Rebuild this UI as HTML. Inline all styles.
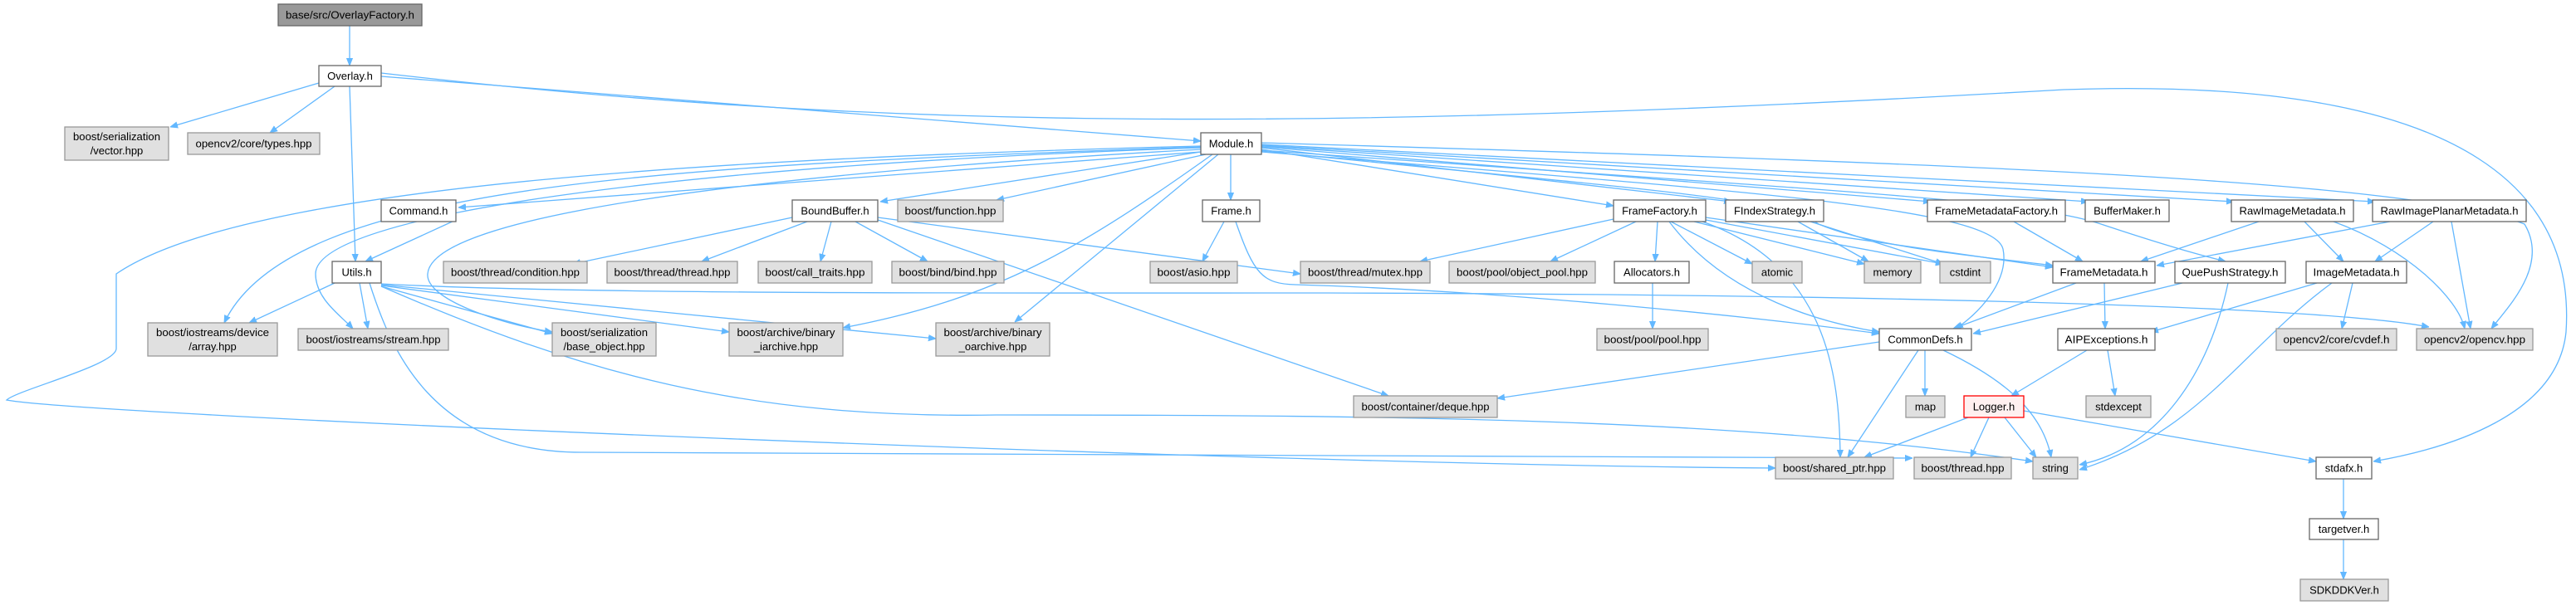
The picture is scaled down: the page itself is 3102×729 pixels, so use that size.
<!DOCTYPE html>
<html><head><meta charset="utf-8"><style>
html,body{margin:0;padding:0;background:#fff;}
svg{display:block;}
text{font-family:"Liberation Sans",Helvetica,sans-serif;font-size:13px;fill:#000;}
.e{fill:none;stroke:#63b8ff;stroke-width:1.3;marker-end:url(#a);}
.g{fill:#e0e0e0;stroke:#999;stroke-width:1.3;}
.w{fill:#fff;stroke:#666;stroke-width:1.3;}
</style></head><body>
<svg width="3102" height="729" viewBox="0 0 3102 729" xmlns="http://www.w3.org/2000/svg">
<defs><marker id="a" viewBox="0 0 10 10" refX="10" refY="5" markerWidth="9" markerHeight="9" markerUnits="userSpaceOnUse" orient="auto"><path d="M0,1 L10,5 L0,9 z" fill="#63b8ff" stroke="#63b8ff"/></marker></defs>

<!-- edges -->
<path class="e" d="M421 31 L421 79"/>
<path class="e" d="M384 100 L205 153"/>
<path class="e" d="M403 104 L325 160"/>
<path class="e" d="M421 104 L428 315"/>
<path class="e" d="M459 92 L1446 170"/>
<path class="e" d="M459 88 C 1000 150, 1500 165, 2485 108 C 3000 90, 3100 250, 3090 400 C 3080 500, 2950 540, 2858 556"/>
<path class="e" d="M1519 172 C 2300 195, 2900 215, 3040 270 C 3070 320, 3020 370, 3000 396"/>
<path class="e" d="M1446 183 L552 250"/>
<path class="e" d="M549 265 L440 315"/>
<path class="e" d="M1446 176 C 900 190, 300 220, 140 330 L 140 420 C 140 440, 20 470, 8 482 C 100 500, 1500 560, 2138 564"/>
<path class="e" d="M1446 177 C 800 200, 350 220, 270 389"/>
<path class="e" d="M1446 178 C 800 200, 380 260, 380 330 C 380 360, 410 380, 425 396"/>
<path class="e" d="M1446 180 C 900 210, 520 260, 515 330 C 512 360, 600 390, 665 400"/>
<path class="e" d="M1460 186 C 1300 300, 1200 360, 1015 395"/>
<path class="e" d="M1467 186 L1222 388"/>
<path class="e" d="M1446 183 L1060 243"/>
<path class="e" d="M1452 186 L1200 241"/>
<path class="e" d="M1482 186 L1482 241"/>
<path class="e" d="M1519 180 L1943 248"/>
<path class="e" d="M1519 178 L2085 243"/>
<path class="e" d="M1519 177 L2325 243"/>
<path class="e" d="M1519 176 L2515 243"/>
<path class="e" d="M1519 175 L2690 243"/>
<path class="e" d="M1519 174 L2860 243"/>
<path class="e" d="M1519 181 C 2200 230, 2440 240, 2530 270 C 2620 300, 2660 310, 2680 315"/>
<path class="e" d="M1519 182 C 2000 230, 2150 240, 2190 270 C 2260 300, 2400 310, 2472 320"/>
<path class="e" d="M1519 183 C 2100 230, 2400 250, 2412 300 C 2420 340, 2380 380, 2355 396"/>
<path class="e" d="M954 262 L690 318"/>
<path class="e" d="M972 267 L845 315"/>
<path class="e" d="M1001 267 L988 315"/>
<path class="e" d="M1030 267 L1117 315"/>
<path class="e" d="M1057 262 L1566 330"/>
<path class="e" d="M1057 265 L1672 477"/>
<path class="e" d="M1474 267 L1448 315"/>
<path class="e" d="M1488 267 C 1510 330, 1520 342, 1560 343 C 1800 350, 2100 380, 2263 402"/>
<path class="e" d="M1943 264 L1710 315"/>
<path class="e" d="M1970 267 L1867 315"/>
<path class="e" d="M1996 267 L1993 315"/>
<path class="e" d="M2012 267 L2110 318"/>
<path class="e" d="M2040 267 L2245 318"/>
<path class="e" d="M2054 265 L2340 318"/>
<path class="e" d="M2054 262 L2472 322"/>
<path class="e" d="M2010 267 C 2080 360, 2200 390, 2263 400"/>
<path class="e" d="M2050 267 C 2200 320, 2215 450, 2216 551"/>
<path class="e" d="M2165 267 L2250 315"/>
<path class="e" d="M2180 267 L2340 318"/>
<path class="e" d="M1990 341 L1990 396"/>
<path class="e" d="M2425 267 L2508 315"/>
<path class="e" d="M2720 267 L2578 315"/>
<path class="e" d="M2775 267 L2822 315"/>
<path class="e" d="M2810 267 C 2900 300, 2960 360, 2968 396"/>
<path class="e" d="M2878 267 L2597 320"/>
<path class="e" d="M2930 267 L2860 315"/>
<path class="e" d="M2952 267 L2975 396"/>
<path class="e" d="M2500 341 L2352 396"/>
<path class="e" d="M2534 341 L2535 396"/>
<path class="e" d="M2628 341 L2376 402"/>
<path class="e" d="M2683 341 C 2660 450, 2600 540, 2504 560"/>
<path class="e" d="M2790 341 L2590 400"/>
<path class="e" d="M2833 341 L2820 396"/>
<path class="e" d="M2808 341 C 2700 420, 2650 520, 2504 566"/>
<path class="e" d="M2263 412 L1803 480"/>
<path class="e" d="M2318 422 L2318 477"/>
<path class="e" d="M2310 422 L2225 551"/>
<path class="e" d="M2340 422 C 2420 460, 2460 500, 2470 551"/>
<path class="e" d="M2513 422 L2422 477"/>
<path class="e" d="M2538 422 L2547 477"/>
<path class="e" d="M2370 503 L2245 551"/>
<path class="e" d="M2395 503 L2373 551"/>
<path class="e" d="M2414 503 L2452 551"/>
<path class="e" d="M2437 495 L2789 556"/>
<path class="e" d="M2822 577 L2822 625"/>
<path class="e" d="M2822 650 L2822 698"/>
<path class="e" d="M403 341 L300 389"/>
<path class="e" d="M433 341 L443 396"/>
<path class="e" d="M459 345 L665 402"/>
<path class="e" d="M459 344 L878 400"/>
<path class="e" d="M459 343 L1127 408"/>
<path class="e" d="M459 342 C 700 355, 1200 353, 1600 353 C 2300 355, 2800 370, 2925 394"/>
<path class="e" d="M459 345 C 700 450, 900 505, 1200 500 C 1700 500, 2100 505, 2448 556"/>
<path class="e" d="M445 341 C 470 420, 520 545, 700 545 L 2303 552"/>

<!-- nodes -->
<rect x="335" y="5" width="173" height="26" fill="#999" stroke="#666" stroke-width="1.3"/><text x="421.5" y="22.5" text-anchor="middle" textLength="155" lengthAdjust="spacingAndGlyphs">base/src/OverlayFactory.h</text>
<rect class="w" x="384" y="79" width="75" height="25"/><text x="421.5" y="96" text-anchor="middle">Overlay.h</text>
<rect class="g" x="78" y="153" width="125" height="40"/><text x="140.5" y="169" text-anchor="middle" textLength="105" lengthAdjust="spacingAndGlyphs">boost/serialization</text><text x="140.5" y="186" text-anchor="middle">/vector.hpp</text>
<rect class="g" x="226" y="160" width="159" height="26"/><text x="305.5" y="177.5" text-anchor="middle" textLength="140" lengthAdjust="spacingAndGlyphs">opencv2/core/types.hpp</text>
<rect class="w" x="1446" y="160" width="73" height="26"/><text x="1482.5" y="177.5" text-anchor="middle">Module.h</text>
<rect class="w" x="459" y="241" width="90" height="26"/><text x="504" y="258.5" text-anchor="middle">Command.h</text>
<rect class="w" x="954" y="241" width="103" height="26"/><text x="1005.5" y="258.5" text-anchor="middle">BoundBuffer.h</text>
<rect class="g" x="1081" y="241" width="127" height="26"/><text x="1144.5" y="258.5" text-anchor="middle" textLength="110" lengthAdjust="spacingAndGlyphs">boost/function.hpp</text>
<rect class="w" x="1448" y="241" width="69" height="26"/><text x="1482.5" y="258.5" text-anchor="middle">Frame.h</text>
<rect class="w" x="1943" y="241" width="111" height="26"/><text x="1998.5" y="258.5" text-anchor="middle">FrameFactory.h</text>
<rect class="w" x="2078" y="241" width="118" height="26"/><text x="2137" y="258.5" text-anchor="middle">FIndexStrategy.h</text>
<rect class="w" x="2321" y="241" width="166" height="26"/><text x="2404" y="258.5" text-anchor="middle" textLength="148" lengthAdjust="spacingAndGlyphs">FrameMetadataFactory.h</text>
<rect class="w" x="2511" y="241" width="101" height="26"/><text x="2561.5" y="258.5" text-anchor="middle">BufferMaker.h</text>
<rect class="w" x="2687" y="241" width="147" height="26"/><text x="2760.5" y="258.5" text-anchor="middle" textLength="128" lengthAdjust="spacingAndGlyphs">RawImageMetadata.h</text>
<rect class="w" x="2857" y="241" width="185" height="26"/><text x="2949.5" y="258.5" text-anchor="middle" textLength="166" lengthAdjust="spacingAndGlyphs">RawImagePlanarMetadata.h</text>
<rect class="w" x="400" y="315" width="59" height="26"/><text x="429.5" y="332.5" text-anchor="middle">Utils.h</text>
<rect class="g" x="534" y="315" width="173" height="26"/><text x="620.5" y="332.5" text-anchor="middle" textLength="155" lengthAdjust="spacingAndGlyphs">boost/thread/condition.hpp</text>
<rect class="g" x="731" y="315" width="157" height="26"/><text x="809.5" y="332.5" text-anchor="middle" textLength="140" lengthAdjust="spacingAndGlyphs">boost/thread/thread.hpp</text>
<rect class="g" x="913" y="315" width="137" height="26"/><text x="981.5" y="332.5" text-anchor="middle" textLength="120" lengthAdjust="spacingAndGlyphs">boost/call_traits.hpp</text>
<rect class="g" x="1074" y="315" width="135" height="26"/><text x="1141.5" y="332.5" text-anchor="middle" textLength="118" lengthAdjust="spacingAndGlyphs">boost/bind/bind.hpp</text>
<rect class="g" x="1385" y="315" width="105" height="26"/><text x="1437.5" y="332.5" text-anchor="middle" textLength="88" lengthAdjust="spacingAndGlyphs">boost/asio.hpp</text>
<rect class="g" x="1566" y="315" width="156" height="26"/><text x="1644" y="332.5" text-anchor="middle" textLength="138" lengthAdjust="spacingAndGlyphs">boost/thread/mutex.hpp</text>
<rect class="g" x="1745" y="315" width="176" height="26"/><text x="1833" y="332.5" text-anchor="middle" textLength="158" lengthAdjust="spacingAndGlyphs">boost/pool/object_pool.hpp</text>
<rect class="w" x="1944" y="315" width="90" height="26"/><text x="1989" y="332.5" text-anchor="middle">Allocators.h</text>
<rect class="g" x="2110" y="315" width="60" height="26"/><text x="2140" y="332.5" text-anchor="middle">atomic</text>
<rect class="g" x="2245" y="315" width="68" height="26"/><text x="2279" y="332.5" text-anchor="middle">memory</text>
<rect class="g" x="2336" y="315" width="61" height="26"/><text x="2366.5" y="332.5" text-anchor="middle">cstdint</text>
<rect class="w" x="2472" y="315" width="123" height="26"/><text x="2533.5" y="332.5" text-anchor="middle" textLength="106" lengthAdjust="spacingAndGlyphs">FrameMetadata.h</text>
<rect class="w" x="2619" y="315" width="133" height="26"/><text x="2685.5" y="332.5" text-anchor="middle" textLength="116" lengthAdjust="spacingAndGlyphs">QuePushStrategy.h</text>
<rect class="w" x="2777" y="315" width="121" height="26"/><text x="2837.5" y="332.5" text-anchor="middle" textLength="104" lengthAdjust="spacingAndGlyphs">ImageMetadata.h</text>
<rect class="g" x="178" y="389" width="156" height="40"/><text x="256" y="405" text-anchor="middle" textLength="136" lengthAdjust="spacingAndGlyphs">boost/iostreams/device</text><text x="256" y="422" text-anchor="middle">/array.hpp</text>
<rect class="g" x="359" y="396" width="181" height="26"/><text x="449.5" y="413.5" text-anchor="middle" textLength="162" lengthAdjust="spacingAndGlyphs">boost/iostreams/stream.hpp</text>
<rect class="g" x="665" y="389" width="125" height="40"/><text x="727.5" y="405" text-anchor="middle" textLength="105" lengthAdjust="spacingAndGlyphs">boost/serialization</text><text x="727.5" y="422" text-anchor="middle" textLength="98" lengthAdjust="spacingAndGlyphs">/base_object.hpp</text>
<rect class="g" x="878" y="389" width="137" height="40"/><text x="946.5" y="405" text-anchor="middle" textLength="118" lengthAdjust="spacingAndGlyphs">boost/archive/binary</text><text x="946.5" y="422" text-anchor="middle">_iarchive.hpp</text>
<rect class="g" x="1127" y="389" width="137" height="40"/><text x="1195.5" y="405" text-anchor="middle" textLength="118" lengthAdjust="spacingAndGlyphs">boost/archive/binary</text><text x="1195.5" y="422" text-anchor="middle">_oarchive.hpp</text>
<rect class="g" x="1923" y="396" width="134" height="26"/><text x="1990" y="413.5" text-anchor="middle" textLength="117" lengthAdjust="spacingAndGlyphs">boost/pool/pool.hpp</text>
<rect class="w" x="2263" y="396" width="111" height="26"/><text x="2318.5" y="413.5" text-anchor="middle">CommonDefs.h</text>
<rect class="w" x="2478" y="396" width="117" height="26"/><text x="2536.5" y="413.5" text-anchor="middle" textLength="100" lengthAdjust="spacingAndGlyphs">AIPExceptions.h</text>
<rect class="g" x="2741" y="396" width="145" height="26"/><text x="2813.5" y="413.5" text-anchor="middle" textLength="128" lengthAdjust="spacingAndGlyphs">opencv2/core/cvdef.h</text>
<rect class="g" x="2910" y="396" width="140" height="26"/><text x="2980" y="413.5" text-anchor="middle" textLength="122" lengthAdjust="spacingAndGlyphs">opencv2/opencv.hpp</text>
<rect class="g" x="1630" y="477" width="173" height="26"/><text x="1716.5" y="494.5" text-anchor="middle" textLength="154" lengthAdjust="spacingAndGlyphs">boost/container/deque.hpp</text>
<rect class="g" x="2295" y="477" width="47" height="26"/><text x="2318.5" y="494.5" text-anchor="middle">map</text>
<rect x="2365" y="477" width="72" height="26" fill="#fff0f0" stroke="#ff0000" stroke-width="1.3"/><text x="2401" y="494.5" text-anchor="middle">Logger.h</text>
<rect class="g" x="2512" y="477" width="78" height="26"/><text x="2551" y="494.5" text-anchor="middle">stdexcept</text>
<rect class="g" x="2138" y="551" width="142" height="26"/><text x="2209" y="568.5" text-anchor="middle" textLength="124" lengthAdjust="spacingAndGlyphs">boost/shared_ptr.hpp</text>
<rect class="g" x="2305" y="551" width="117" height="26"/><text x="2363.5" y="568.5" text-anchor="middle" textLength="100" lengthAdjust="spacingAndGlyphs">boost/thread.hpp</text>
<rect class="g" x="2448" y="551" width="54" height="26"/><text x="2475" y="568.5" text-anchor="middle">string</text>
<rect class="w" x="2789" y="551" width="67" height="26"/><text x="2822.5" y="568.5" text-anchor="middle">stdafx.h</text>
<rect class="w" x="2781" y="625" width="83" height="25"/><text x="2822.5" y="642" text-anchor="middle">targetver.h</text>
<rect class="g" x="2770" y="698" width="106" height="26"/><text x="2823" y="715.5" text-anchor="middle">SDKDDKVer.h</text>
</svg>
</body></html>
